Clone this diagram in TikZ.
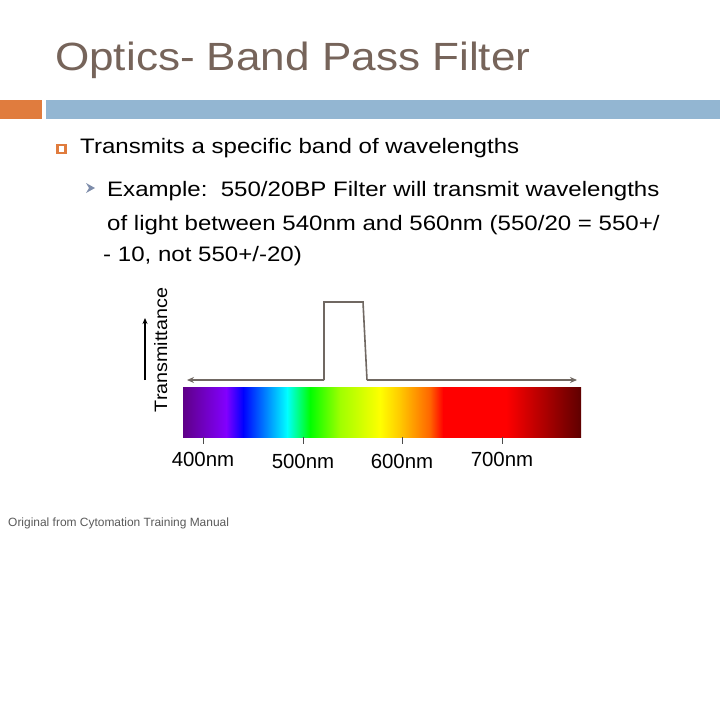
\documentclass[tikz,border=0pt]{standalone}
\usepackage{fontspec}
\setmainfont{Liberation Sans}
\newfontfamily\titlefont[FakeStretch=1.12]{Liberation Sans}
\newfontfamily\bodyfont[FakeStretch=1.15]{Liberation Sans}
\newfontfamily\axisfont[FakeStretch=1.1]{Liberation Sans}
\usetikzlibrary{arrows.meta}
\definecolor{titlecol}{RGB}{118,100,90}
\definecolor{orangebar}{RGB}{224,124,62}
\definecolor{bluebar}{RGB}{147,182,210}
\definecolor{pulsegray}{RGB}{112,104,98}
\definecolor{arrowbul}{RGB}{125,140,170}
\definecolor{notegray}{RGB}{90,90,90}
\tikzset{
  txt/.style={anchor=base west, inner sep=0pt, text=black},
  bodytxt/.style={txt, font=\bodyfont\fontsize{21}{26}\selectfont},
  nmlabel/.style={anchor=base, inner sep=0pt, font=\fontsize{20.5}{24}\selectfont},
  tick/.style={draw=black!70, line width=0.8bp},
  pulse/.style={draw=pulsegray, line width=1.6bp},
}
\newcommand{\specseg}[4]{\fill[left color=#3, right color=#4] (#1,387) rectangle (#2,437);}
\begin{document}
\begin{tikzpicture}[x=1bp,y=-1bp]
\useasboundingbox[fill=white] (0,0) rectangle (720,720);
% title
\node[txt, text=titlecol, font=\titlefont\fontsize{39.5}{48}\selectfont] (title) at (55,70.5) {Optics- Band Pass Filter};
% bars
\fill[orangebar] (0,100) rectangle (42,119);
\fill[bluebar] (46,100) rectangle (720,119);
% bullets
\draw[orangebar, line width=2.4bp] (57.5,145) rectangle (65.5,153);
\node[bodytxt] (t1) at (80,153.5) {Transmits a specific band of wavelengths};
\fill[arrowbul] (86,183) -- (95,188) -- (86,193) -- (89,188) -- cycle;
\node[bodytxt] (t2) at (107,196) {Example:\ \ 550/20BP Filter will transmit wavelengths};
\node[bodytxt] (t3) at (107,230) {of light between 540nm and 560nm (550/20 = 550+/};
\node[bodytxt] (t4) at (103,261) {- 10, not 550+/-20)};
% spectrum
\definecolor{s1}{RGB}{95,0,135}
\definecolor{s2}{RGB}{130,0,255}
\definecolor{s3}{RGB}{0,0,255}
\definecolor{s4}{RGB}{0,255,255}
\definecolor{s5}{RGB}{0,255,0}
\definecolor{s6}{RGB}{160,255,0}
\definecolor{s7}{RGB}{255,255,0}
\definecolor{s8}{RGB}{255,200,0}
\definecolor{s9}{RGB}{255,100,0}
\definecolor{s10}{RGB}{255,0,0}
\definecolor{s11}{RGB}{255,0,0}
\definecolor{s12}{RGB}{95,0,0}
\specseg{183}{226.3}{s1}{s2}
\specseg{226}{243.3}{s2}{s3}
\specseg{243}{287.3}{s3}{s4}
\specseg{287}{310.3}{s4}{s5}
\specseg{310}{340.3}{s5}{s6}
\specseg{340}{380.3}{s6}{s7}
\specseg{380}{400.3}{s7}{s8}
\specseg{400}{430.3}{s8}{s9}
\specseg{430}{443.3}{s9}{s10}
\specseg{443}{506.3}{s10}{s11}
\specseg{506}{581}{s11}{s12}
\coordinate (spec) at (382,412);
% pulse curve with double arrow
\coordinate (pl) at (187,380);
\coordinate (pr) at (577,380);
\coordinate (p1) at (324,380);
\coordinate (p2) at (324,302);
\coordinate (p3) at (363,302);
\coordinate (p4) at (367,380);
\draw[pulse, -{Stealth[length=7bp,width=6bp]}] (p1) -- (pl);
\draw[pulse] (p1) -- (p2) -- (p3) -- (p4);
\draw[pulse, -{Stealth[length=7bp,width=6bp]}] (p4) -- (pr);
% transmittance axis
\node[inner sep=0pt, rotate=90, anchor=base, font=\axisfont\fontsize{18}{20}\selectfont] (trans) at (167,350) {Transmittance};
\coordinate (ta) at (145,380);
\coordinate (tb) at (145,318);
\draw[black, line width=1.2bp, -{Stealth[length=6bp,width=5bp]}] (ta) -- (tb);
% ticks and labels
\foreach \x/\l/\b in {203/400/466, 303/500/468, 402/600/468, 502/700/466} {
  \draw[tick] (\x,437) -- (\x,444);
  \node[nmlabel] (nm\l) at (\x,\b) {\l nm};
}
% note
\node[txt, text=notegray, font=\fontsize{12}{14}\selectfont] (note) at (8,526) {Original from Cytomation Training Manual};
\end{tikzpicture}
\end{document}
